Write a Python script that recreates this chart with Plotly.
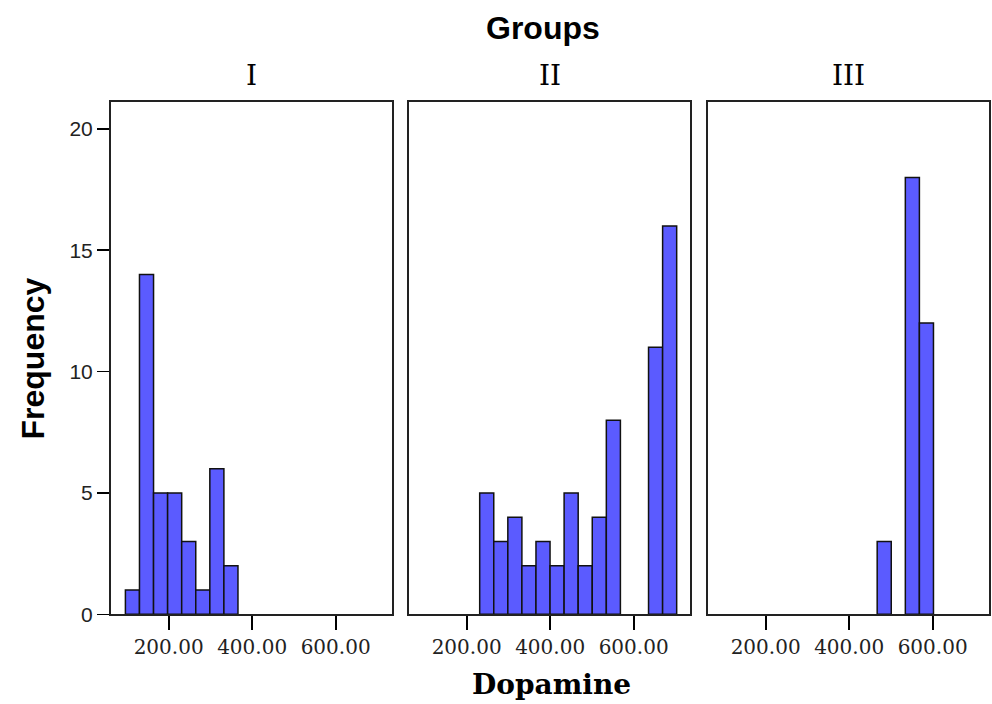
import plotly.graph_objects as go

# ---- data ----
groups = ["I", "II", "III"]
bin_start = 96.5      # lower edge of first bin (Dopamine)
bin_width = 33.7
counts_I = [1, 14, 5, 5, 3, 1, 6, 2, 0, 0, 0, 0, 0, 0, 0, 0, 0, 0]
counts_II = [0, 0, 0, 0, 5, 3, 4, 2, 3, 2, 5, 2, 4, 8, 0, 0, 11, 16]
counts_III = [0, 0, 0, 0, 0, 0, 0, 0, 0, 0, 0, 3, 0, 18, 12, 0, 0, 0]
x_ticks = [200, 400, 600]
y_ticks = [0, 5, 10, 15, 20]

all_counts = [counts_I, counts_II, counts_III]

W, H = 992, 704          # reference picture size (positions measured in it)
FIG_H = 716              # rendered height
panels_px = [(111, 392), (409, 690), (708, 989)]
y_dom = [1 - 613.5 / H, 1 - 102 / H]

SERIF = "DejaVu Serif"
SANS = "Liberation Sans"
BAR = "#5b5bff"

fig = go.Figure()
for i, (g, cnts) in enumerate(zip(groups, all_counts)):
    centers = [bin_start + (k + 0.5) * bin_width for k in range(len(cnts))]
    xa = "x" if i == 0 else f"x{i+1}"
    ya = "y" if i == 0 else f"y{i+1}"
    fig.add_trace(go.Bar(
        x=centers, y=cnts, width=bin_width,
        marker=dict(color=BAR,
                    line=dict(color="#111",
                              width=[1.5 if c else 0 for c in cnts])),
        xaxis=xa, yaxis=ya, showlegend=False, hoverinfo="skip",
    ))
    xkey = "xaxis" if i == 0 else f"xaxis{i+1}"
    ykey = "yaxis" if i == 0 else f"yaxis{i+1}"
    x0, x1 = panels_px[i]
    fig.update_layout(**{
        xkey: dict(
            domain=[x0 / W, x1 / W], anchor=ya, range=[62, 735],
            tickvals=x_ticks, tickformat=".2f",
            ticks="outside", ticklen=14, tickwidth=2, tickcolor="black",
            showline=True, mirror=True, linecolor="#222", linewidth=2,
            showgrid=False, zeroline=False,
            tickfont=dict(family=SERIF, size=20, color="#222"),
        ),
        ykey: dict(
            domain=y_dom, anchor=xa, range=[0, 21.1],
            tickvals=y_ticks,
            ticks="outside" if i == 0 else "", ticklen=12, tickwidth=1.5,
            tickcolor="black",
            showticklabels=(i == 0),
            showline=True, mirror=True, linecolor="#222", linewidth=2,
            showgrid=False, zeroline=False,
            tickfont=dict(family=SANS, size=21, color="#222"),
        ),
    })
    fig.add_annotation(
        text=g, xref="paper", yref="paper",
        x=(x0 + x1) / 2 / W, y=1 - 75 / H, showarrow=False,
        font=dict(family=SERIF, size=28, color="black"),
        xanchor="center", yanchor="middle",
    )

fig.add_annotation(text="<b>Groups</b>", xref="paper", yref="paper",
                   x=543 / W, y=1 - 28 / H, showarrow=False,
                   font=dict(family=SANS, size=32, color="black"),
                   xanchor="center", yanchor="middle")
fig.add_annotation(text="<b>Dopamine</b>", xref="paper", yref="paper",
                   x=551 / W, y=1 - 684 / H, showarrow=False,
                   font=dict(family=SERIF, size=28, color="black"),
                   xanchor="center", yanchor="middle")
fig.add_annotation(text="<b>Frequency</b>", xref="paper", yref="paper",
                   x=33 / W, y=1 - 358 / H, showarrow=False, textangle=-90,
                   font=dict(family=SANS, size=32, color="black"),
                   xanchor="center", yanchor="middle")

fig.update_layout(
    width=W, height=FIG_H,
    margin=dict(l=0, r=0, t=0, b=0),
    paper_bgcolor="white", plot_bgcolor="white",
    bargap=0,
)

fig.write_html(
    "out.html",
    config={"displayModeBar": False, "staticPlot": True},
    post_script=(
        "document.body.style.margin='0px';"
        "document.body.style.overflow='hidden';"
        "document.documentElement.style.overflow='hidden';"
        "var d=document.getElementById('{plot_id}');"
        "d.style.position='fixed';d.style.top='0px';d.style.left='0px';"
    ),
)
